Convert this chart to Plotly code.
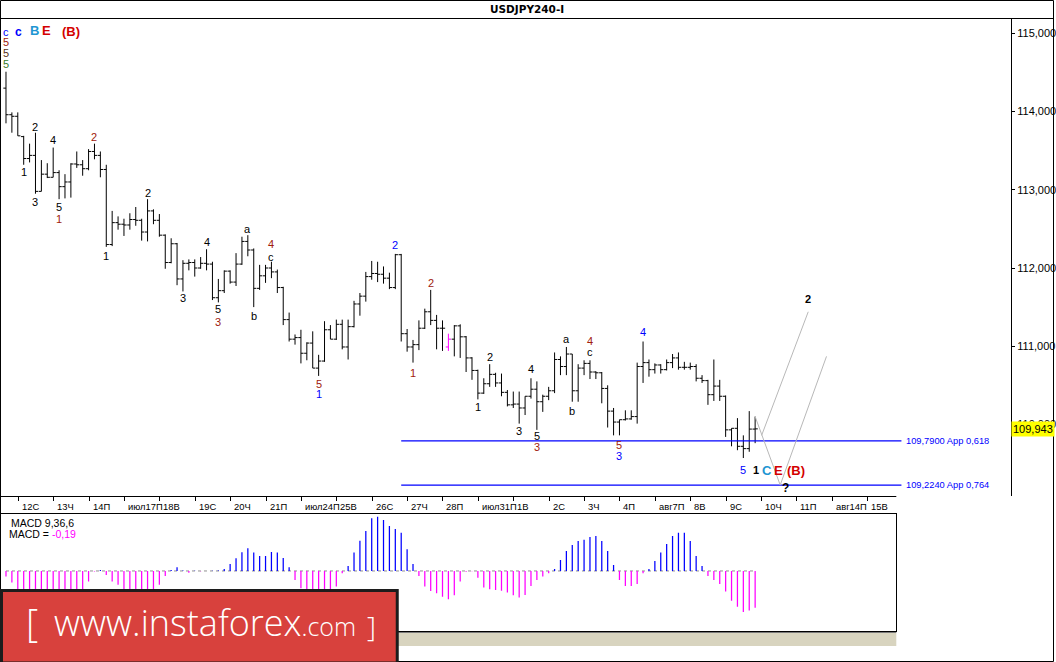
import plotly.graph_objects as go

W, H = 1056, 662

# ---------------- data ----------------
opens = [114.30, 113.96, 113.94, 113.68, 113.40, 113.44, 112.98, 113.20, 113.16, 113.22,
         113.04, 113.10, 113.33, 113.32, 113.27, 113.49, 113.44, 113.26, 112.30, 112.58,
         112.56, 112.55, 112.62, 112.61, 112.46, 112.73, 112.61, 112.42, 112.07, 112.31,
         111.86, 112.06, 112.07, 112.00, 112.06, 112.05, 111.62, 111.71, 111.96, 111.82,
         112.05, 112.34, 112.23, 111.74, 111.90, 112.00, 111.95, 111.75, 111.34, 111.09,
         111.11, 110.91, 111.04, 110.72, 110.81, 111.21, 111.09, 111.28, 110.99, 111.25,
         111.54, 111.64, 111.89, 111.93, 111.92, 111.87, 111.75, 112.17, 111.16, 110.99,
         111.02, 111.23, 111.44, 111.33, 111.23, 110.99, 111.09, 111.26, 111.12, 110.85,
         110.69, 110.40, 110.52, 110.64, 110.53, 110.41, 110.25, 110.26, 110.21, 110.36,
         110.45, 110.29, 110.36, 110.43, 110.83, 110.74, 110.90, 110.43, 110.72, 110.78,
         110.67, 110.66, 110.46, 110.17, 110.03, 110.06, 110.07, 110.10, 110.74, 110.79,
         110.70, 110.76, 110.70, 110.79, 110.85, 110.73, 110.73, 110.74, 110.59, 110.56,
         110.38, 110.49, 110.36, 109.93, 109.95, 109.72, 109.69, 109.94]
highs = [114.51, 113.99, 113.99, 113.69, 113.59, 113.73, 113.38, 113.34, 113.54, 113.25,
         113.20, 113.34, 113.49, 113.38, 113.52, 113.59, 113.49, 113.32, 112.73, 112.66,
         112.63, 112.70, 112.78, 112.63, 112.88, 112.75, 112.69, 112.43, 112.38, 112.32,
         112.10, 112.11, 112.11, 112.14, 112.24, 112.08, 111.86, 111.97, 111.97, 112.19,
         112.40, 112.42, 112.25, 112.04, 112.04, 112.08, 111.98, 111.76, 111.43, 111.15,
         111.21, 111.05, 111.19, 110.89, 111.32, 111.27, 111.34, 111.34, 111.34, 111.58,
         111.68, 111.95, 112.09, 112.08, 112.02, 111.94, 112.18, 112.18, 111.22, 111.08,
         111.33, 111.48, 111.72, 111.40, 111.33, 111.16, 111.27, 111.28, 111.13, 110.86,
         110.70, 110.59, 110.77, 110.66, 110.65, 110.44, 110.42, 110.42, 110.36, 110.59,
         110.55, 110.38, 110.48, 110.92, 110.87, 110.99, 110.90, 110.77, 110.82, 110.82,
         110.68, 110.67, 110.50, 110.21, 110.06, 110.18, 110.18, 110.79, 111.06, 110.83,
         110.78, 110.77, 110.83, 110.90, 110.92, 110.80, 110.79, 110.77, 110.63, 110.57,
         110.83, 110.57, 110.37, 109.95, 110.08, 109.86, 110.17, 110.10]
lows = [113.85, 113.73, 113.69, 113.32, 113.35, 112.95, 112.98, 113.15, 113.16, 112.88,
        112.89, 112.90, 113.28, 113.18, 113.25, 113.39, 113.16, 112.27, 112.28, 112.49,
        112.41, 112.49, 112.54, 112.35, 112.34, 112.56, 112.40, 111.99, 112.06, 111.78,
        111.70, 111.97, 111.89, 111.99, 111.97, 111.59, 111.56, 111.68, 111.80, 111.77,
        112.04, 112.15, 111.50, 111.72, 111.81, 111.87, 111.68, 111.27, 111.06, 111.02,
        110.78, 110.82, 110.72, 110.62, 110.80, 111.09, 111.08, 110.96, 110.83, 111.24,
        111.39, 111.57, 111.85, 111.82, 111.80, 111.73, 111.73, 111.06, 110.93, 110.79,
        110.95, 111.22, 111.27, 110.96, 110.94, 110.94, 110.87, 110.85, 110.67, 110.57,
        110.32, 110.39, 110.48, 110.48, 110.36, 110.23, 110.21, 110.01, 110.12, 110.33,
        109.93, 110.16, 110.31, 110.40, 110.63, 110.63, 110.29, 110.29, 110.63, 110.58,
        110.58, 110.27, 109.96, 109.86, 109.86, 110.05, 110.06, 110.01, 110.53, 110.61,
        110.65, 110.65, 110.69, 110.72, 110.70, 110.70, 110.70, 110.55, 110.53, 110.25,
        110.30, 110.30, 109.84, 109.72, 109.67, 109.57, 109.65, 109.76]
closes = [113.96, 113.94, 113.69, 113.40, 113.44, 112.98, 113.20, 113.16, 113.22, 113.04,
          113.10, 113.33, 113.32, 113.27, 113.49, 113.44, 113.26, 112.30, 112.58, 112.56,
          112.55, 112.62, 112.61, 112.46, 112.73, 112.61, 112.42, 112.07, 112.31, 111.86,
          112.06, 112.07, 112.00, 112.06, 112.05, 111.62, 111.71, 111.96, 111.82, 112.05,
          112.34, 112.23, 111.74, 111.90, 112.00, 111.95, 111.75, 111.34, 111.09, 111.11,
          110.91, 111.04, 110.72, 110.81, 111.21, 111.09, 111.28, 110.99, 111.25, 111.54,
          111.64, 111.89, 111.93, 111.92, 111.87, 111.75, 112.17, 111.16, 110.99, 111.02,
          111.23, 111.44, 111.33, 111.23, 111.23, 111.09, 111.26, 111.12, 110.85, 110.69,
          110.40, 110.52, 110.64, 110.53, 110.41, 110.25, 110.26, 110.21, 110.36, 110.45,
          110.29, 110.36, 110.43, 110.83, 110.74, 110.90, 110.43, 110.72, 110.78, 110.67,
          110.66, 110.46, 110.17, 110.03, 110.06, 110.07, 110.10, 110.74, 110.79, 110.70,
          110.76, 110.70, 110.79, 110.85, 110.73, 110.73, 110.74, 110.59, 110.56, 110.38,
          110.49, 110.36, 109.93, 109.95, 109.72, 109.69, 109.94, 109.943]
highlight_bar = 75  # drawn in magenta

macd = [-0.029, -0.060, -0.100, -0.120, -0.130, -0.150, -0.150, -0.140, -0.130, -0.130,
        -0.120, -0.110, -0.105, -0.100, -0.055, -0.003, 0.005, -0.021, -0.055, -0.072,
        -0.100, -0.110, -0.120, -0.120, -0.110, -0.100, -0.072, -0.026, 0.005, 0.019,
        0.002, -0.009, 0.001, -0.001, 0.000, 0.001, 0.002, 0.010, 0.036, 0.066,
        0.097, 0.117, 0.095, 0.078, 0.078, 0.098, 0.095, 0.067, 0.019, -0.047,
        -0.090, -0.110, -0.130, -0.130, -0.120, -0.100, -0.081, -0.012, 0.026, 0.095,
        0.157, 0.207, 0.273, 0.281, 0.264, 0.233, 0.217, 0.198, 0.112, 0.036,
        -0.026, -0.081, -0.104, -0.116, -0.133, -0.147, -0.126, -0.055, -0.004, -0.002,
        -0.035, -0.086, -0.095, -0.098, -0.102, -0.112, -0.126, -0.138, -0.124, -0.078,
        -0.047, -0.029, -0.012, 0.010, 0.057, 0.104, 0.135, 0.155, 0.161, 0.176,
        0.181, 0.155, 0.104, 0.031, -0.047, -0.078, -0.078, -0.067, -0.012, 0.010,
        0.052, 0.095, 0.140, 0.181, 0.198, 0.198, 0.155, 0.078, 0.026, -0.026,
        -0.047, -0.067, -0.107, -0.154, -0.185, -0.212, -0.205, -0.190]

day_labels = ["12С", "13Ч", "14П", "июл17П", "18В", "19С", "20Ч", "21П", "июл24П", "25В",
              "26С", "27Ч", "28П", "июл31П", "1В", "2С", "3Ч", "4П", "авг7П", "8В",
              "9С", "10Ч", "11П", "авг14П", "15В"]
first_day_bar = 2.08
bars_per_day = 6

price_ticks = [110, 111, 112, 113, 114, 115]
price_tick_text = ["110,000", "111,000", "112,000", "113,000", "114,000", "115,000"]
last_price = 109.943
last_price_text = "109,943"

fib_levels = [109.79, 109.224]
fib_texts = ["109,7900 App 0,618", "109,2240 App 0,764"]
fib_from_bar = 67
fib_to_bar = 151.8

proj_a_x = [127, 131.25, 139.1]
proj_a_y = [110.10, 109.224, 110.87]
proj_b_x = [128.1, 136.0]
proj_b_y = [109.86, 111.44]

title = "USDJPY240-I"
macd_title = "MACD 9,36,6"
macd_value_text = "-0,19"

# ---------------- styles ----------------
K = "#000000"
RB = "#a0200c"
BL = "#0000ff"
LB = "#1e96d2"
RD = "#d40000"
BROWN = "#5c3317"
GREEN = "#3a7d2a"
FONT = "Liberation Sans"

# wave labels: (text, bar, side, dy_px, dx_px, color, size, bold)
waves = [
    ("5", 0, "high", 8, 0, GREEN, 11, False),
    ("5", 0, "high", 19, 0, BROWN, 11, False),
    ("5", 0, "high", 30, 0, RB, 11, False),
    ("c", 0, "high", 40, 0, BL, 11, False),
    ("c", 0, "high", 40, 13, BL, 12, True),
    ("B", 0, "high", 41, 29, LB, 13, True),
    ("E", 0, "high", 41, 41, RD, 13, True),
    ("(B)", 0, "high", 40, 65, RD, 13, True),
    ("1", 3, "low", 7, 0, K, 11, False),
    ("2", 5, "high", 6, 0, K, 11, False),
    ("3", 5, "low", 8, 0, K, 11, False),
    ("4", 8, "high", 8, 0, K, 11, False),
    ("5", 9, "low", 8, 0, K, 11, False),
    ("1", 9, "low", 20, 0, RB, 11, False),
    ("2", 15, "high", 7, 0, RB, 11, False),
    ("1", 17, "low", 9, 0, K, 11, False),
    ("2", 24, "high", 6, 0, K, 11, False),
    ("3", 30, "low", 7, 0, K, 11, False),
    ("4", 34, "high", 7, 0, K, 11, False),
    ("5", 36, "low", 7, 0, K, 11, False),
    ("3", 36, "low", 20, 0, RB, 11, False),
    ("a", 41, "high", 6, 0, K, 11, False),
    ("b", 42, "low", 9, 0, K, 11, False),
    ("c", 45, "high", 5, 0, K, 11, False),
    ("4", 45, "high", 18, 0, RB, 11, False),
    ("5", 53, "low", 8, 0, RB, 11, False),
    ("1", 53, "low", 18, 0, BL, 11, False),
    ("2", 66, "high", 9, 0, BL, 11, False),
    ("1", 69, "low", 10, 0, RB, 11, False),
    ("2", 72, "high", 7, 0, RB, 11, False),
    ("1", 80, "low", 8, 0, K, 11, False),
    ("2", 82, "high", 7, 0, K, 11, False),
    ("3", 87, "low", 7, 0, K, 11, False),
    ("4", 89, "high", 9, 0, K, 11, False),
    ("5", 90, "low", 6, 0, K, 11, False),
    ("3", 90, "low", 17, 0, RB, 11, False),
    ("a", 95, "high", 8, 0, K, 11, False),
    ("b", 96, "low", 9, 0, K, 11, False),
    ("c", 99, "high", 8, 0, K, 11, False),
    ("4", 99, "high", 19, 0, RB, 11, False),
    ("5", 104, "low", 10, 0, RB, 11, False),
    ("3", 104, "low", 21, 0, BL, 11, False),
    ("4", 108, "high", 10, 0, BL, 11, False),
    ("5", 125, "low", 12, 0, BL, 11, False),
    ("1", 127, "low", 27, 1, K, 11, True),
    ("C", 127, "low", 27, 12, LB, 13, True),
    ("E", 127, "low", 27, 23, RD, 13, True),
    ("(B)", 127, "low", 27, 41, RD, 13, True),
]

# ---------------- geometry helpers ----------------
BAR_PX = 5.91
FIRST_BAR_PX = 6.0
PRICE_PX = 78.2
PRICE_REF, PRICE_REF_PX = 110.0, 424.4


def px(x):
    return x / W


def py(y):
    return 1 - y / H


def px_to_bar(x):
    return (x - FIRST_BAR_PX) / BAR_PX


def py_to_price(y):
    return PRICE_REF + (PRICE_REF_PX - y) / PRICE_PX


MAIN_RIGHT, MAIN_TOP, MAIN_BOTTOM = 1013, 18, 496
MACD_RIGHT, MACD_TOP, MACD_BOTTOM = 898, 514, 631

fig = go.Figure()

# fib levels
for lvl, txt in zip(fib_levels, fib_texts):
    fig.add_trace(go.Scatter(x=[fib_from_bar, fib_to_bar], y=[lvl, lvl], mode="lines",
                             line=dict(color="#0000ff", width=1.2), hoverinfo="skip",
                             xaxis="x", yaxis="y"))
    fig.add_annotation(x=fib_to_bar, y=lvl, xref="x", yref="y", text=txt, showarrow=False,
                       xanchor="left", yanchor="middle", xshift=3,
                       font=dict(family=FONT, size=9.3, color="#0000ff"))

# OHLC bars
idx = list(range(len(opens)))
keep = [i for i in idx if i != highlight_bar]
fig.add_trace(go.Ohlc(x=keep,
                      open=[opens[i] for i in keep], high=[highs[i] for i in keep],
                      low=[lows[i] for i in keep], close=[closes[i] for i in keep],
                      increasing=dict(line=dict(color="black", width=1)),
                      decreasing=dict(line=dict(color="black", width=1)),
                      tickwidth=0.45, hoverinfo="skip", xaxis="x", yaxis="y"))
hb = highlight_bar
fig.add_trace(go.Scatter(
    x=[hb, hb, None, hb - 0.45, hb, None, hb, hb + 0.45],
    y=[lows[hb], highs[hb], None, opens[hb], opens[hb], None, closes[hb], closes[hb]],
    mode="lines", line=dict(color="#ff00ff", width=1), hoverinfo="skip",
    xaxis="x", yaxis="y"))

# projection lines
for xs, ys in ((proj_a_x, proj_a_y), (proj_b_x, proj_b_y)):
    fig.add_trace(go.Scatter(x=xs, y=ys, mode="lines", line=dict(color="#b8b8b8", width=1),
                             hoverinfo="skip", xaxis="x", yaxis="y"))
fig.add_annotation(x=proj_a_x[1], y=proj_a_y[1], xref="x", yref="y", text="<b>?</b>",
                   showarrow=False, xshift=5.6, yshift=-3,
                   font=dict(family=FONT, size=12, color="black"))
fig.add_annotation(x=proj_b_x[1], y=proj_b_y[1], xref="x", yref="y", text="<b>2</b>",
                   showarrow=False, yshift=13,
                   font=dict(family=FONT, size=11, color="black"))

# MACD histogram
pos_x, pos_y, neg_x, neg_y = [], [], [], []
for i, v in enumerate(macd):
    if v >= 0:
        pos_x += [i, i, None]
        pos_y += [0, v, None]
    else:
        neg_x += [i, i, None]
        neg_y += [0, v, None]
fig.add_trace(go.Scatter(x=[0, len(macd) - 1], y=[0, 0], mode="lines",
                         line=dict(color="#909090", width=1, dash="dot"),
                         hoverinfo="skip", xaxis="x2", yaxis="y2"))
fig.add_trace(go.Scatter(x=pos_x, y=pos_y, mode="lines", line=dict(color="#0000ff", width=1.25),
                         hoverinfo="skip", xaxis="x2", yaxis="y2"))
fig.add_trace(go.Scatter(x=neg_x, y=neg_y, mode="lines", line=dict(color="#ff00ff", width=1.25),
                         hoverinfo="skip", xaxis="x2", yaxis="y2"))

# wave labels
for text, bar, side, dy, dx, color, size, bold in waves:
    yv = highs[bar] if side == "high" else lows[bar]
    fig.add_annotation(x=bar, y=yv, xref="x", yref="y",
                       text=f"<b>{text}</b>" if bold else text, showarrow=False,
                       xshift=dx, yshift=dy if side == "high" else -dy,
                       font=dict(family=FONT, size=size, color=color))

# date labels
tickvals = [first_day_bar + bars_per_day * d for d in range(len(day_labels))]
for tv, lab in zip(tickvals, day_labels):
    fig.add_annotation(x=tv, y=py(506), xref="x", yref="paper", text=lab, showarrow=False,
                       xanchor="left", yanchor="middle", xshift=1.5,
                       font=dict(family=FONT, size=9.4, color="black"))

# current price tag
fig.add_annotation(x=px(MAIN_RIGHT), y=last_price, xref="paper", yref="y",
                   text=last_price_text, showarrow=False, xanchor="left", yanchor="middle",
                   bgcolor="#ffff00", borderpad=1,
                   font=dict(family=FONT, size=11, color="black"))

# title and MACD texts
fig.add_annotation(x=px(528), y=py(9.5), xref="paper", yref="paper",
                   text=f"<b>{title}</b>", showarrow=False, xanchor="center", yanchor="middle",
                   font=dict(family="DejaVu Sans", size=10.5, color="black"))
fig.add_annotation(x=px(9), y=py(522.5), xref="paper", yref="paper", text=macd_title,
                   showarrow=False, xanchor="left", yanchor="middle",
                   font=dict(family=FONT, size=10.5, color="black"))
fig.add_annotation(x=px(7), y=py(534), xref="paper", yref="paper",
                   text=f"MACD = <span style='color:#ff00ff'>{macd_value_text}</span>",
                   showarrow=False, xanchor="left", yanchor="middle",
                   font=dict(family=FONT, size=10.5, color="black"))

# frame shapes
shapes = [
    dict(type="line", xref="paper", yref="paper", x0=0, x1=1, y0=py(18.5), y1=py(18.5),
         line=dict(color="black", width=1)),
    dict(type="line", xref="paper", yref="paper", x0=0, x1=px(MACD_RIGHT),
         y0=py(MAIN_BOTTOM + 0.5), y1=py(MAIN_BOTTOM + 0.5), line=dict(color="black", width=1)),
    dict(type="rect", xref="paper", yref="paper", x0=0, x1=px(MACD_RIGHT), y0=py(646),
         y1=py(633), fillcolor="#d8d4bf", line=dict(width=0)),
    dict(type="line", xref="paper", yref="paper", x0=0, x1=px(MACD_RIGHT), y0=py(632.5),
         y1=py(632.5), line=dict(color="#7a7a7a", width=1)),
    dict(type="rect", xref="paper", yref="paper", x0=px(0.5), x1=px(1055.5), y0=py(661.5),
         y1=py(0.5), line=dict(color="black", width=1)),
    # watermark box
    dict(type="rect", xref="paper", yref="paper", x0=px(1.5), x1=px(398), y0=py(663),
         y1=py(590.5), fillcolor="#d8413d", line=dict(color="#1c1c1c", width=3), layer="above"),
]
fig.update_layout(shapes=shapes)

WM = "Open Sans"
fig.add_annotation(x=px(24), y=py(622), xref="paper", yref="paper", text="[",
                   showarrow=False, xanchor="left", yanchor="middle",
                   font=dict(family=WM, size=38, color="white", weight=300))
fig.add_annotation(x=px(52), y=py(622.5), xref="paper", yref="paper",
                   text="www.instaforex<span style='font-size:25px'>.com</span>",
                   showarrow=False, xanchor="left", yanchor="middle",
                   font=dict(family=WM, size=36, color="white", weight=300))
fig.add_annotation(x=px(366), y=py(626), xref="paper", yref="paper", text="]",
                   showarrow=False, xanchor="left", yanchor="middle",
                   font=dict(family=WM, size=28, color="white", weight=300))

fig.update_layout(
    width=W, height=H, margin=dict(l=0, r=0, t=0, b=0),
    paper_bgcolor="white", plot_bgcolor="white", showlegend=False,
    xaxis=dict(domain=[0, px(MAIN_RIGHT)],
               range=[px_to_bar(0), px_to_bar(MAIN_RIGHT)],
               showgrid=False, zeroline=False, showline=False,
               ticks="outside", ticklen=4, tickwidth=1, tickcolor="black",
               tickvals=tickvals, showticklabels=False,
               rangeslider=dict(visible=False), fixedrange=True),
    yaxis=dict(domain=[py(MAIN_BOTTOM), py(MAIN_TOP)],
               range=[py_to_price(MAIN_BOTTOM), py_to_price(MAIN_TOP)],
               side="right", showgrid=False, zeroline=False,
               showline=True, linecolor="black", linewidth=1,
               ticks="outside", ticklen=3, tickcolor="black",
               tickvals=price_ticks, ticktext=price_tick_text,
               tickfont=dict(family=FONT, size=11, color="black"), fixedrange=True),
    xaxis2=dict(domain=[0, px(MACD_RIGHT)], anchor="y2",
                range=[px_to_bar(0), px_to_bar(MACD_RIGHT)],
                showgrid=False, zeroline=False, showline=True, mirror=True,
                linecolor="black", linewidth=1, showticklabels=False, ticks=""),
    yaxis2=dict(domain=[py(MACD_BOTTOM), py(MACD_TOP)], anchor="x2",
                range=[-0.311, 0.295],
                showgrid=False, zeroline=False, showline=True, mirror=True,
                linecolor="black", linewidth=1, showticklabels=False, ticks=""),
)

fig.write_html("out.html", config={"displayModeBar": False},
               post_script="document.body.style.margin='0';document.body.style.overflow='hidden';")
